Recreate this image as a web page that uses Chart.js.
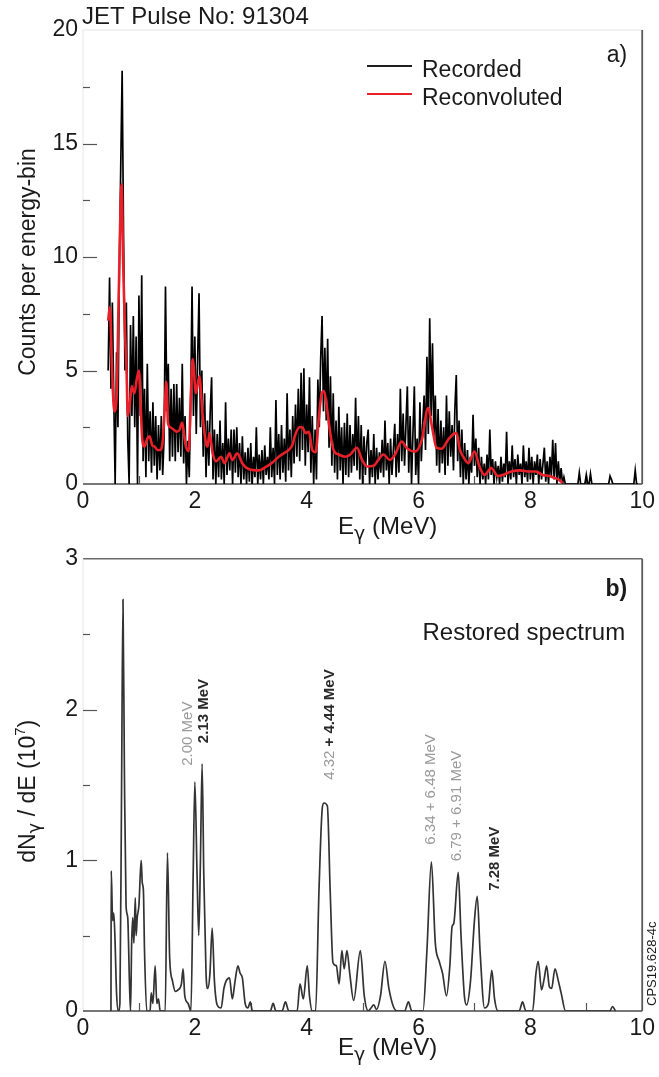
<!DOCTYPE html>
<html>
<head>
<meta charset="utf-8">
<script src="https://cdn.jsdelivr.net/npm/chart.js@4.4.1/dist/chart.umd.min.js"></script>
<style>
  html, body { margin: 0; padding: 0; background: #fff; }
  #wrap { position: relative; width: 659px; height: 1077px; }
  canvas { position: absolute; left: 0; }
  #top { top: 0; }
  #bottom { top: 540px; }
</style>
</head>
<body>
<div id="wrap">
  <canvas id="top" width="659" height="552"></canvas>
  <canvas id="bottom" width="659" height="537"></canvas>
</div>
<script>
const FONT = '"Liberation Sans", Arial, Helvetica, sans-serif';
const GREEK = '"DejaVu Sans", "Noto Sans", sans-serif';

// panel a) recorded counts, 0.025 MeV bins from 0.45 MeV
const binStart = 0.45;
const binWidth = 0.025;
const recordedCounts = [
  5.0, 9.1, 4.2, 8.0, 3.8, 0.0, 5.8, 2.5, 9.5, 14.0,
  18.2, 11.0, 5.0, 8.0, 2.0, 0.0, 7.0, 3.0, 7.4, 2.5,
  6.5, 0.0, 8.3, 3.0, 9.2, 1.0, 4.2, 0.3, 5.3, 1.0,
  3.2, 0.5, 3.6, 0.8, 3.0, 0.2, 2.6, 0.6, 3.0, 0.4,
  2.0, 8.7, 3.2, 5.3, 1.0, 4.2, 1.2, 4.4, 1.0, 4.4,
  1.4, 3.8, 1.2, 5.3, 0.9, 3.0, 0.0, 1.9, 0.3, 3.5,
  8.7, 3.0, 6.5, 2.2, 5.5, 8.4, 2.5, 5.0, 1.2, 4.0,
  0.3, 2.8, 0.8, 3.2, 4.7, 0.2, 2.4, 0.0, 2.2, 0.3,
  2.8, 0.2, 1.8, 0.0, 3.6, 0.4, 2.0, 0.6, 2.4, 0.0,
  2.4, 0.5, 2.5, 0.3, 1.8, 0.0, 2.1, 0.2, 1.4, 0.0,
  1.6, 0.1, 1.8, 0.0, 1.2, 0.3, 2.5, 0.0, 1.3, 0.2,
  1.5, 0.0, 1.7, 0.4, 1.2, 0.2, 2.5, 0.3, 1.6, 0.0,
  3.7, 0.4, 2.2, 0.2, 2.6, 0.5, 2.0, 0.1, 4.0, 0.6,
  2.4, 0.3, 3.0, 0.9, 3.5, 1.2, 4.2, 1.0, 4.9, 1.5,
  5.1, 0.8, 3.5, 1.4, 4.7, 0.5, 3.0, 0.0, 2.4, 0.2,
  4.6, 2.5, 5.5, 7.4, 3.2, 6.0, 2.8, 6.4, 1.6, 4.75,
  0.8, 4.0, 0.5, 2.8, 0.2, 3.4, 0.6, 2.5, 0.0, 2.7,
  0.4, 3.1, 0.3, 2.6, 0.5, 2.2, 0.8, 3.8, 0.6, 3.0,
  0.2, 2.6, 0.0, 2.1, 0.4, 1.8, 2.4, 0.0, 1.5, 0.3,
  2.2, 0.0, 1.6, 0.2, 1.4, 0.5, 1.95, 0.3, 2.8, 0.6,
  1.8, 0.0, 2.0, 0.4, 1.5, 2.65, 0.3, 2.2, 0.5, 4.2,
  1.0, 3.1, 0.8, 2.6, 4.3, 0.5, 3.0, 0.0, 2.2, 4.3,
  0.4, 2.0, 0.0, 3.6, 1.0, 2.6, 3.9, 1.5, 5.6, 2.2,
  7.3, 3.0, 6.2, 2.0, 3.9, 0.8, 3.3, 0.5, 2.8, 0.9,
  2.5, 0.4, 3.9, 0.8, 3.2, 1.2, 2.6, 0.6, 3.3, 4.8,
  1.0, 2.8, 0.3, 2.4, 0.0, 1.8, 0.2, 1.5, 0.0, 1.2,
  0.5, 3.05, 0.8, 2.0, 0.3, 1.6, 0.0, 1.2, 0.2, 0.9,
  0.0, 1.3, 0.2, 2.4, 0.4, 1.1, 0.0, 1.0, 0.3, 0.8,
  0.0, 1.2, 0.1, 0.9, 0.3, 2.3, 0.0, 1.0, 0.2, 1.7,
  0.3, 1.1, 0.0, 1.3, 0.4, 0.9, 0.0, 1.7, 0.3, 1.0,
  0.1, 1.6, 0.2, 1.2, 0.0, 1.0, 0.4, 1.3, 0.0, 1.1,
  0.2, 0.9, 1.6, 0.1, 1.0, 0.0, 1.2, 0.3, 1.95, 0.2,
  1.8, 0.0, 1.0, 0.1, 0.7, 0.0, 0.3, 0, 0, 0,
  0, 0, 0, 0, 0, 0, 0, 0.5, 0, 0,
  0, 0, 0.4, 0, 0, 0.45, 0, 0, 0, 0,
  0, 0, 0, 0, 0, 0, 0, 0, 0, 0.35,
  0.2, 0, 0, 0, 0, 0, 0, 0, 0, 0,
  0, 0, 0, 0, 0, 0, 0, 0.6, 0, 0
];

// panel a) reconvoluted curve
const reconE = [0.45, 0.48, 0.52, 0.56, 0.6, 0.64, 0.69, 0.72, 0.75, 0.78, 0.8, 0.84, 0.87, 0.92, 0.96, 1.0,
  1.03, 1.06, 1.1, 1.15, 1.19, 1.24, 1.28, 1.33, 1.38, 1.43, 1.46, 1.49, 1.52, 1.56, 1.62, 1.68, 1.73, 1.77,
  1.84, 1.89, 1.93, 1.96, 2.02, 2.08, 2.14, 2.2, 2.23, 2.26, 2.32, 2.38, 2.47, 2.53, 2.62, 2.67, 2.76, 2.85,
  2.97, 3.15, 3.27, 3.39, 3.5, 3.62, 3.68, 3.74, 3.8, 3.87, 3.92, 3.98, 4.04, 4.1, 4.16, 4.22, 4.27, 4.31,
  4.36, 4.42, 4.48, 4.57, 4.69, 4.78, 4.9, 4.99, 5.08, 5.2, 5.28, 5.37, 5.49, 5.58, 5.7, 5.79, 5.94, 6.06,
  6.17, 6.25, 6.32, 6.41, 6.53, 6.62, 6.68, 6.74, 6.8, 6.89, 7.0, 7.09, 7.18, 7.3, 7.42, 7.51, 7.66, 7.81,
  7.98, 8.1, 8.22, 8.34, 8.43, 8.5, 8.58];
const reconY = [7.2, 7.8, 5.0, 3.2, 3.8, 8.5, 13.2, 9.5, 6.8, 4.9, 3.0, 3.6, 4.3, 4.0, 4.6, 5.0,
  3.5, 1.95, 1.65, 2.0, 2.1, 1.7, 1.65, 1.5, 1.5, 2.0, 3.3, 4.5, 2.7, 2.5, 2.4, 2.3, 2.4, 2.7,
  1.65, 1.45, 4.0, 5.5, 4.0, 4.75, 3.0, 1.8, 1.65, 2.25, 1.35, 1.0, 1.2, 0.92, 1.35, 1.05, 1.35, 0.9,
  0.65, 0.6, 0.75, 0.95, 1.2, 1.4, 1.5, 1.7, 2.2, 2.5, 2.5, 2.24, 2.3, 1.5, 1.4, 3.0, 4.0, 4.1,
  3.4, 2.25, 1.5, 1.3, 1.2, 1.3, 1.6, 1.06, 0.77, 0.8, 1.06, 1.3, 1.06, 1.3, 1.87, 1.58, 1.43, 1.95,
  3.35, 2.4, 1.6, 1.55, 1.95, 2.2, 2.24, 1.5, 1.2, 0.92, 1.43, 0.77, 0.4, 0.7, 0.35, 0.4, 0.55, 0.6,
  0.55, 0.55, 0.4, 0.35, 0.27, 0.2, 0.05];

// panel b) restored spectrum (units of 10^7)
const restoredE = [0.5, 0.505, 0.53, 0.55, 0.57, 0.6, 0.63, 0.66, 0.69, 0.715, 0.74, 0.77, 0.8, 0.83, 0.85,
  0.87, 0.89, 0.91, 0.935, 0.95, 0.97, 1.0, 1.04, 1.06, 1.08, 1.1, 1.14, 1.2, 1.22, 1.25, 1.29, 1.32, 1.35,
  1.38, 1.47, 1.51, 1.55, 1.6, 1.65, 1.7, 1.76, 1.79, 1.82, 1.88, 1.93, 1.97, 2.0, 2.04, 2.07, 2.1, 2.13,
  2.16, 2.2, 2.23, 2.27, 2.31, 2.35, 2.4, 2.47, 2.52, 2.56, 2.62, 2.67, 2.72, 2.77, 2.81, 2.85, 2.9, 2.95,
  2.99, 3.03, 3.35, 3.4, 3.45, 3.56, 3.62, 3.68, 3.83, 3.88, 3.94, 4.01, 4.05, 4.1, 4.16, 4.22, 4.28, 4.31,
  4.37, 4.42, 4.47, 4.53, 4.58, 4.63, 4.67, 4.72, 4.77, 4.84, 4.96, 5.03, 5.1, 5.15, 5.2, 5.25, 5.32, 5.4,
  5.47, 5.55, 5.62, 5.75, 5.82, 5.88, 6.08, 6.15, 6.23, 6.3, 6.37, 6.43, 6.5, 6.56, 6.6, 6.63, 6.71, 6.76,
  6.82, 6.86, 6.93, 7.0, 7.05, 7.1, 7.18, 7.25, 7.31, 7.36, 7.42, 7.8, 7.86, 7.92, 8.04, 8.1, 8.14, 8.2,
  8.25, 8.29, 8.34, 8.38, 8.44, 8.5, 8.55, 8.63, 9.42, 9.47, 9.52];
const restoredY = [0, 0.93, 0.6, 0.65, 0.5, 0.12, 0.0, 0.05, 1.5, 2.73, 1.6, 0.7, 0.62, 0.2, 0.0,
  0.45, 0.62, 0.45, 0.75, 0.5, 0.62, 0.7, 1.0, 0.85, 0.8, 0.4, 0.0, 0.0, 0.12, 0.05, 0.3, 0.05, 0.08,
  0.0, 0.0, 1.05, 0.35, 0.2, 0.13, 0.14, 0.18, 0.28, 0.1, 0.05, 0.0, 0.9, 1.52, 0.9, 0.5, 1.0, 1.64,
  0.9, 0.25, 0.15, 0.25, 0.55, 0.2, 0.04, 0.02, 0.15, 0.2, 0.22, 0.08, 0.2, 0.3, 0.25, 0.22, 0.05, 0.02,
  0.06, 0.0, 0.0, 0.05, 0.0, 0.0, 0.06, 0.0, 0.0, 0.18, 0.08, 0.3, 0.1, 0.0, 0.0, 0.8, 1.35, 1.38,
  1.36, 0.8, 0.32, 0.3, 0.18, 0.4, 0.28, 0.4, 0.25, 0.07, 0.4, 0.1, 0.0, 0.02, 0.04, 0.01, 0.1, 0.33,
  0.15, 0.03, 0.0, 0.0, 0.06, 0.0, 0.0, 0.4, 0.99, 0.45, 0.33, 0.25, 0.1, 0.3, 0.56, 0.58, 0.92, 0.5,
  0.1, 0.04, 0.2, 0.6, 0.76, 0.4, 0.02, 0.05, 0.27, 0.08, 0.0, 0.0, 0.06, 0.0, 0.0, 0.25, 0.33, 0.14,
  0.22, 0.3, 0.16, 0.15, 0.28, 0.2, 0.12, 0.0, 0.0, 0.03, 0.0];

// line identifications in panel b): energy / height where each label is centred
const peakLabels = [
  { e: 1.86, v: 1.84, parts: [{ t: '2.00 MeV', dark: false }] },
  { e: 2.15, v: 1.99, parts: [{ t: '2.13 MeV', dark: true }] },
  { e: 4.40, v: 1.9, parts: [{ t: '4.32 ', dark: false }, { t: '+ 4.44 MeV', dark: true }] },
  { e: 6.20, v: 1.47, parts: [{ t: '6.34 + 6.48 MeV', dark: false }] },
  { e: 6.67, v: 1.36, parts: [{ t: '6.79 + 6.91 MeV', dark: false }] },
  { e: 7.35, v: 1.01, parts: [{ t: '7.28 MeV', dark: true }] }
];

Chart.defaults.font.family = FONT;
Chart.defaults.color = '#1a1a1a';

const drawEnergyTitle = (ctx, x, base) => {
  ctx.textAlign = 'left';
  ctx.textBaseline = 'alphabetic';
  ctx.font = `24px ${FONT}`;
  ctx.fillText('E', x, base);
  x += ctx.measureText('E').width;
  ctx.font = `19px ${GREEK}`;
  ctx.fillText('\u03b3', x, base + 6);
  x += ctx.measureText('\u03b3').width;
  ctx.font = `24px ${FONT}`;
  ctx.fillText(' (MeV)', x, base);
};

// draws text parts along a line rotated -90deg, starting at (x, y) going up
const drawUpward = (ctx, x, y, parts) => {
  ctx.save();
  ctx.translate(x, y);
  ctx.rotate(-Math.PI / 2);
  ctx.textAlign = 'left';
  let pos = 0;
  parts.forEach(p => {
    ctx.font = p.font;
    ctx.fillStyle = p.color || '#1a1a1a';
    ctx.textBaseline = 'alphabetic';
    ctx.fillText(p.t, pos, p.dy || 0);
    pos += ctx.measureText(p.t).width;
  });
  ctx.restore();
  return pos;
};

const frame = {
  id: 'frame',
  beforeDatasetsDraw(chart, args, opts) {
    const { ctx, chartArea: a, scales: { x, y } } = chart;
    const line = (x1, y1, x2, y2, color, w) => {
      ctx.strokeStyle = color;
      ctx.lineWidth = w;
      ctx.beginPath();
      ctx.moveTo(x1, y1);
      ctx.lineTo(x2, y2);
      ctx.stroke();
    };
    ctx.save();
    line(a.left, a.top, a.right, a.top, opts.topColor, opts.topWidth);
    line(a.left, a.top, a.left, a.bottom, '#e6e6e6', 1);
    line(a.right, a.top, a.right, a.bottom, opts.rightColor, 1.8);
    // inward ticks on y: majors at tick values, minors halfway
    const yt = y.ticks.map(t => t.value);
    yt.forEach((v, i) => {
      const py = Math.round(y.getPixelForValue(v)) + 0.5;
      if (i > 0 && i < yt.length - 1) line(a.left, py, a.left + 14, py, '#555', 1.2);
      if (i < yt.length - 1) {
        const pm = Math.round(y.getPixelForValue((v + yt[i + 1]) / 2)) + 0.5;
        line(a.left, pm, a.left + 7, pm, '#555', 1.2);
      }
    });
    const xt = x.ticks.map(t => t.value);
    xt.slice(0, -1).forEach((v, i) => {
      const px = Math.round(x.getPixelForValue((v + xt[i + 1]) / 2)) + 0.5;
      line(px, a.bottom, px, a.bottom - 8, '#555', 1.2);
    });
    line(a.left, a.bottom, a.right, a.bottom, '#4a4a4a', 1.6);
    ctx.restore();
  }
};

const topText = {
  id: 'topText',
  afterDraw(chart) {
    const { ctx, chartArea: a } = chart;
    ctx.save();
    ctx.fillStyle = '#1a1a1a';
    ctx.textBaseline = 'alphabetic';
    ctx.textAlign = 'left';
    ctx.font = `24px ${FONT}`;
    ctx.fillText('JET Pulse No: 91304', a.left - 1, 24);
    ctx.font = `23px ${FONT}`;
    ctx.textAlign = 'right';
    ctx.fillText('a)', a.right - 15, 62);
    ctx.textAlign = 'left';
    chart.data.datasets.forEach((ds, i) => {
      const ly = 66 + i * 28;
      ctx.strokeStyle = ds.legendColor;
      ctx.lineWidth = 2.2;
      ctx.beginPath();
      ctx.moveTo(367, ly);
      ctx.lineTo(412, ly);
      ctx.stroke();
      ctx.fillText(ds.label, 422, ly + 11);
    });
    drawEnergyTitle(ctx, a.left + 255, a.bottom + 50);
    const font = `23px ${FONT}`;
    ctx.font = font;
    const w = ctx.measureText('Counts per energy-bin').width;
    drawUpward(ctx, 35, (a.top + a.bottom) / 2 + 5 + w / 2, [{ t: 'Counts per energy-bin', font }]);
    ctx.restore();
  }
};

const bottomText = {
  id: 'bottomText',
  afterDraw(chart) {
    const { ctx, chartArea: a, scales: { x, y } } = chart;
    ctx.save();
    ctx.fillStyle = '#1a1a1a';
    ctx.textBaseline = 'alphabetic';
    ctx.textAlign = 'right';
    ctx.font = `bold 23px ${FONT}`;
    ctx.fillText('b)', a.right - 15, a.top + 37);
    ctx.font = `24px ${FONT}`;
    ctx.fillText('Restored spectrum', a.right - 17, a.top + 81);
    drawEnergyTitle(ctx, a.left + 255, a.bottom + 44);

    const big = `23px ${FONT}`;
    drawUpward(ctx, 35, a.top + 304, [
      { t: 'dN', font: big },
      { t: '\u03b3', font: `18px ${GREEK}`, dy: 5 },
      { t: ' / dE (10', font: big },
      { t: '7', font: `15px ${FONT}`, dy: -10 },
      { t: ')', font: big }
    ]);
    drawUpward(ctx, 656, a.bottom - 5, [{ t: 'CPS19.628-4c', font: `13px ${FONT}` }]);

    peakLabels.forEach(lab => {
      const parts = lab.parts.map(p => ({
        t: p.t,
        font: `${p.dark ? 'bold ' : ''}15px ${FONT}`,
        color: p.dark ? '#2a2a2a' : '#9a9a9a',
        dy: 5
      }));
      let total = 0;
      parts.forEach(p => { ctx.font = p.font; total += ctx.measureText(p.t).width; });
      drawUpward(ctx, x.getPixelForValue(lab.e), y.getPixelForValue(lab.v) + total / 2, parts);
    });
    ctx.restore();
  }
};

const makeOptions = (yMax, yStep, padTop, xHeight) => ({
  responsive: false,
  animation: false,
  devicePixelRatio: 1,
  layout: { padding: { top: padTop, right: 14, left: 0, bottom: 0 } },
  plugins: { legend: { display: false }, tooltip: { enabled: false } },
  scales: {
    x: {
      type: 'linear', min: 0, max: 10,
      grid: { display: false, drawTicks: false },
      border: { display: false },
      ticks: { stepSize: 2, font: { size: 23 }, padding: 4, maxRotation: 0, autoSkip: false, color: '#1a1a1a' },
      afterFit: s => { s.height = xHeight; }
    },
    y: {
      min: 0, max: yMax,
      grid: { display: false, drawTicks: false },
      border: { display: false },
      ticks: { stepSize: yStep, font: { size: 23 }, padding: 5, color: '#1a1a1a' },
      afterFit: s => { s.width = 83; }
    }
  }
});

// top canvas is 552 tall (overlaps the bottom one, transparent) so that the
// gamma subscript of the axis title is not cut
const topOptions = makeOptions(20, 5, 30, 68);
topOptions.plugins.frame = { topColor: '#e4e4e4', topWidth: 1, rightColor: '#5a5a5a' };

new Chart(document.getElementById('top').getContext('2d'), {
  type: 'line',
  data: {
    datasets: [
      {
        label: 'Recorded',
        data: recordedCounts.map((c, i) => ({ x: binStart + i * binWidth, y: c })),
        borderColor: '#000',
        legendColor: '#1f1f1f',
        borderWidth: 1.7,
        pointRadius: 0,
        tension: 0,
        order: 1
      },
      {
        label: 'Reconvoluted',
        data: reconE.map((e, i) => ({ x: e, y: reconY[i] })),
        borderColor: '#e8202a',
        legendColor: '#e8202a',
        borderWidth: 2.6,
        pointRadius: 0,
        cubicInterpolationMode: 'monotone',
        order: 0
      }
    ]
  },
  options: topOptions,
  plugins: [frame, topText]
});

const bottomOptions = makeOptions(3, 1, 14, 66);
bottomOptions.plugins.frame = { topColor: '#6a6a6a', topWidth: 1.6, rightColor: '#5a5a5a' };

new Chart(document.getElementById('bottom').getContext('2d'), {
  type: 'line',
  data: {
    datasets: [
      {
        label: 'Restored spectrum',
        data: restoredE.map((e, i) => ({ x: e, y: restoredY[i] })),
        borderColor: '#333',
        borderWidth: 1.7,
        pointRadius: 0,
        cubicInterpolationMode: 'monotone'
      }
    ]
  },
  options: bottomOptions,
  plugins: [frame, bottomText]
});
</script>
</body>
</html>
